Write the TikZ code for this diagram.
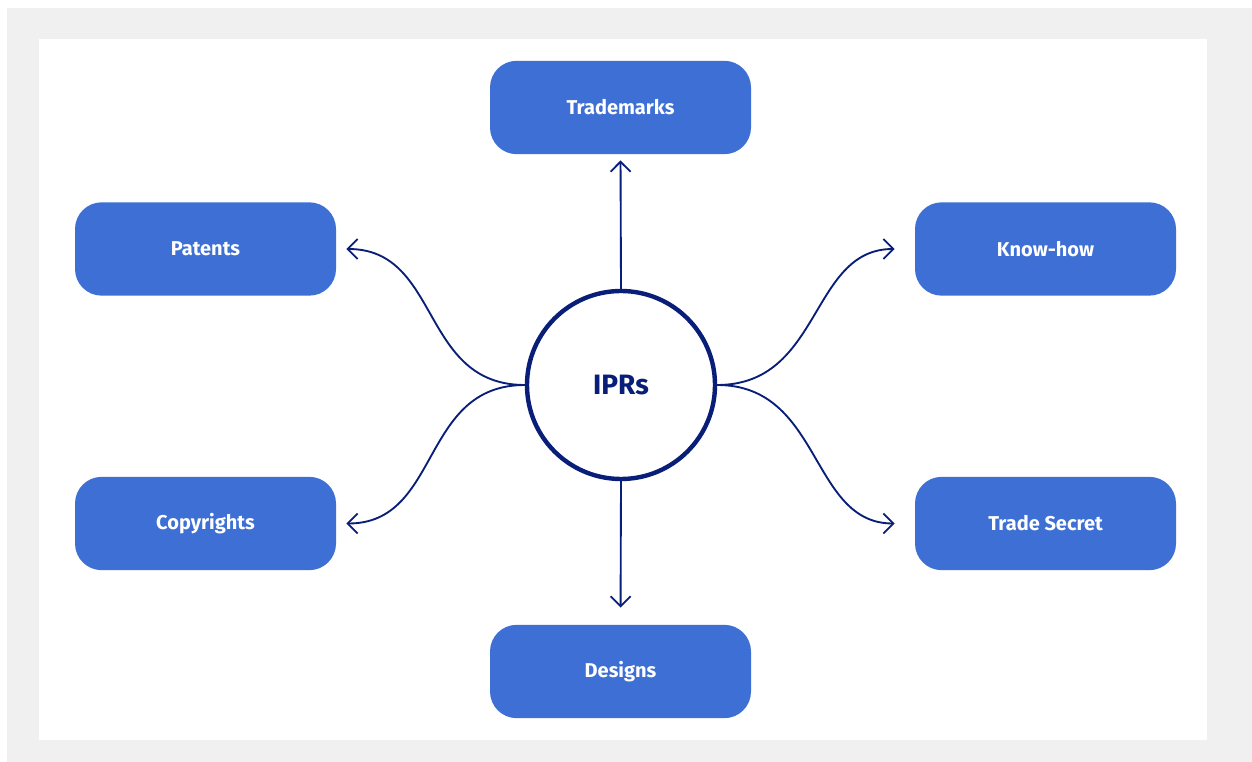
\documentclass[tikz,border=0pt]{standalone}
\usepackage{fontspec}
\setmainfont{Fira Sans}
\usetikzlibrary{arrows.meta}
\definecolor{frame}{RGB}{240,240,240}
\definecolor{boxblue}{RGB}{61,111,212}
\definecolor{navy}{RGB}{8,30,120}
\begin{document}
\begin{tikzpicture}[x=0.75pt,y=-0.75pt,
  topic/.style={rectangle, rounded corners=20pt, fill=boxblue, text=white,
    minimum width=195.75pt, minimum height=70pt, inner sep=0pt,
    font=\fontsize{15}{18}\selectfont\bfseries},
  hub/.style={circle, draw=navy, line width=3.3pt, fill=white, text=navy,
    minimum size=141pt, inner sep=0pt, font=\fontsize{21}{25}\selectfont\bfseries},
  link/.style={draw=navy, line width=1.4pt,
    -{Straight Barb[length=7.5pt,width=15pt,line width=1.4pt]}}]
  % frame and canvas
  \useasboundingbox (0,0) rectangle (1252,762);
  \fill[frame] (7,8) rectangle (1252,762);
  \fill[white] (39,39) rectangle (1207,740);

  % hub and topics
  \node[hub] (ipr) at (621,385) {IPRs};
  \node[topic] (tm) at (620.5,107.5) {Trademarks};
  \node[topic] (pat) at (205.5,249) {Patents};
  \node[topic] (kh) at (1045.5,249) {Know-how};
  \node[topic] (cr) at (205.5,523.5) {Copyrights};
  \node[topic] (ts) at (1045.5,523.5) {Trade Secret};
  \node[topic] (des) at (620.5,671.5) {Designs};

  % connectors
  \draw[link, shorten >=4.5pt] (ipr.north) -- (tm.south);
  \draw[link, shorten >=12.75pt] (ipr.south) -- (des.north);
  \draw[link, shorten >=7.5pt] (ipr.west) .. controls +(-105,0) and +(105,0) .. (pat.east);
  \draw[link, shorten >=7.5pt] (ipr.west) .. controls +(-105,0) and +(105,0) .. (cr.east);
  \draw[link, shorten >=15pt] (ipr.east) .. controls +(105,0) and +(-105,0) .. (kh.west);
  \draw[link, shorten >=15pt] (ipr.east) .. controls +(105,0) and +(-105,0) .. (ts.west);
\end{tikzpicture}
\end{document}
